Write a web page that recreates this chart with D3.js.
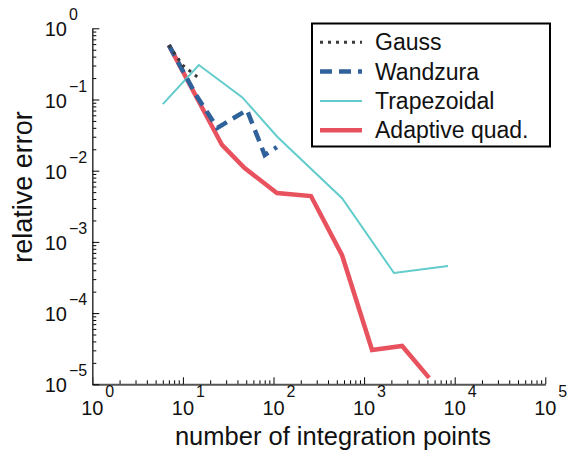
<!DOCTYPE html>
<html>
<head>
<meta charset="utf-8">
<script src="https://cdn.jsdelivr.net/npm/d3@7"></script>
<style>
  body { margin: 0; background: #fff; }
  text { font-family: "Liberation Sans", Arial, sans-serif; fill: #111; }
</style>
</head>
<body>
<script>
// series (number of points, relative error)
const gaussN = [7, 10, 15];
const gaussErr = [0.58, 0.3, 0.2];

const wandzuraN = [7, 14, 24, 51, 80, 109];
const wandzuraErr = [0.58, 0.115, 0.04, 0.071, 0.0166, 0.0215];

const trapN = [6, 15, 45, 110, 571, 2137, 8433];
const trapErr = [0.086, 0.305, 0.108, 0.03, 0.0041, 0.000366, 0.00046];

const adaptN = [7, 14, 27, 48, 109, 259, 571, 1224, 2630, 5220];
const adaptErr = [0.58, 0.11, 0.023, 0.0109, 0.00487, 0.00441, 0.00065, 0.0000303, 0.0000345, 0.0000123];

const legendNames = ["Gauss", "Wandzura", "Trapezoidal", "Adaptive quad."];
const xTickExp = [0, 1, 2, 3, 4, 5];
const yTickExp = [0, -1, -2, -3, -4, -5];

const W = 567, H = 451;

const svg = d3.select("body")
    .append("svg")
    .attr("width", W)
    .attr("height", H);

const xScale = d3.scaleLog([1, 1e5], [92.3, 545.3]);
const yScale = d3.scaleLog([1e-5, 1], [384.3, 28.3]);

// minor ticks 2..9 per decade
const xMinor = [], yMinor = [];
for (let e = 0; e < 5; e++) for (let k = 2; k < 10; k++) xMinor.push(k * Math.pow(10, e));
for (let e = -5; e < 0; e++) for (let k = 2; k < 10; k++) yMinor.push(k * Math.pow(10, e));

// x axis
svg.append("g")
    .attr("transform", `translate(0, ${yScale(1e-5)})`)
    .call(d3.axisBottom(xScale).tickValues(xMinor).tickSize(-4).tickSizeOuter(0).tickFormat(""))
    .call(g => g.select(".domain").remove());
const xAxis = svg.append("g")
    .attr("transform", `translate(0, ${yScale(1e-5)})`)
    .call(d3.axisBottom(xScale).tickValues(xTickExp.map(e => Math.pow(10, e))).tickSize(-7).tickSizeOuter(0).tickFormat(""));
xAxis.select(".domain").attr("stroke", "#555").attr("stroke-width", 2);

// y axis
svg.append("g")
    .attr("transform", `translate(${xScale(1)}, 0)`)
    .call(d3.axisLeft(yScale).tickValues(yMinor).tickSize(-4).tickSizeOuter(0).tickFormat(""))
    .call(g => g.select(".domain").remove());
const yAxis = svg.append("g")
    .attr("transform", `translate(${xScale(1)}, 0)`)
    .call(d3.axisLeft(yScale).tickValues(yTickExp.map(e => Math.pow(10, e))).tickSize(-7).tickSizeOuter(0).tickFormat(""));
yAxis.select(".domain").attr("stroke", "#333").attr("stroke-width", 1.5);

svg.selectAll(".tick line").attr("stroke", "#000");

const expText = e => (e < 0 ? "\u2212" + (-e) : "" + e);

// x tick labels
const xl = svg.append("g").selectAll("g").data(xTickExp).enter().append("g")
    .attr("transform", e => `translate(${xScale(Math.pow(10, e))}, 0)`);
xl.append("text").attr("x", 0).attr("y", 415).attr("text-anchor", "middle")
    .style("font-size", "20px").text("10");
xl.append("text").attr("x", 13).attr("y", 397)
    .style("font-size", "16px").text(e => expText(e));

// y tick labels
const yl = svg.append("g").selectAll("g").data(yTickExp).enter().append("g")
    .attr("transform", e => `translate(0, ${yScale(Math.pow(10, e))})`);
yl.append("text").attr("x", 67).attr("y", 8).attr("text-anchor", "end")
    .style("font-size", "20px").text("10");
yl.append("text").attr("x", 69).attr("y", -8)
    .style("font-size", "16px").text(e => expText(e));

// axis titles
svg.append("text")
    .attr("x", 333).attr("y", 445).attr("text-anchor", "middle")
    .style("font-size", "25.5px").text("number of integration points");
svg.append("text")
    .attr("transform", "translate(32, 187) rotate(-90)")
    .attr("text-anchor", "middle")
    .style("font-size", "27px").text("relative error");

// lines
const series = [
    { n: gaussN, err: gaussErr, color: "#3a3a3a", width: 3, dash: "3,5" },
    { n: wandzuraN, err: wandzuraErr, color: "#2f629a", width: 4.5, dash: "12,7" },
    { n: trapN, err: trapErr, color: "#62cccc", width: 2, dash: null },
    { n: adaptN, err: adaptErr, color: "#e8525e", width: 4.5, dash: null }
];

const dMaker = d3.line()
    .x(d => xScale(d[0]))
    .y(d => yScale(d[1]));

// draw adaptive first, then trapezoid, then wandzura, gauss on top
const drawOrder = [3, 2, 1, 0];
svg.append("g").selectAll("path")
    .data(drawOrder.map(i => series[i]))
    .enter()
    .append("path")
    .attr("fill", "none")
    .attr("stroke", s => s.color)
    .attr("stroke-width", s => s.width)
    .attr("stroke-dasharray", s => s.dash)
    .attr("stroke-linejoin", "miter")
    .attr("d", s => dMaker(s.n.map((v, i) => [v, s.err[i]])));

// legend
const lg = svg.append("g");
lg.append("rect")
    .attr("x", 312).attr("y", 23.5).attr("width", 238).attr("height", 123)
    .attr("fill", "#fff").attr("stroke", "#000").attr("stroke-width", 2);
const items = lg.selectAll("g.item").data(series).enter().append("g")
    .attr("transform", (s, i) => `translate(0, ${42.3 + i * 29.3})`);
items.append("line")
    .attr("x1", 320).attr("x2", 362).attr("y1", 0).attr("y2", 0)
    .attr("stroke", s => s.color)
    .attr("stroke-width", s => s.width)
    .attr("stroke-dasharray", s => s.dash);
items.append("text")
    .attr("x", 375).attr("y", 8)
    .style("font-size", "23px")
    .text((s, i) => legendNames[i]);
</script>
</body>
</html>
